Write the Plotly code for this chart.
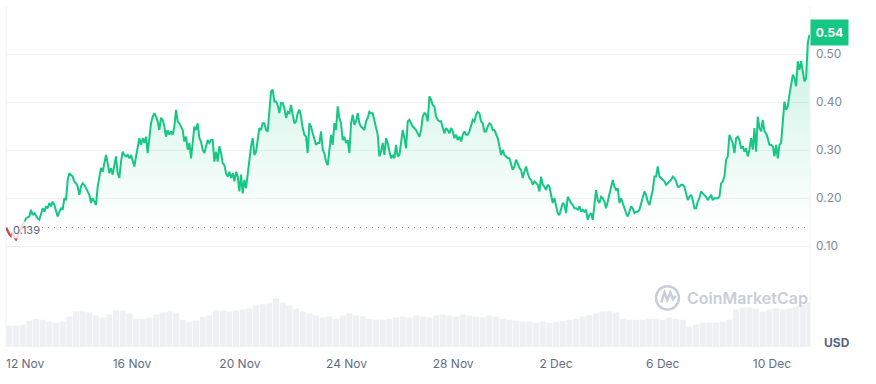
import plotly.graph_objects as go
import pandas as pd

# ---- data ----
price_start_time = "2023-11-12 00:00"
price_step = "90min"
price = [
    0.139, 0.130, 0.125, 0.121, 0.128, 0.118, 0.114, 0.121, 0.130, 0.136, 0.145, 0.150, 0.158, 0.160, 0.162,
    0.176, 0.165, 0.169, 0.162, 0.158, 0.155, 0.165, 0.179, 0.172, 0.183,
    0.179, 0.190, 0.183, 0.193, 0.186, 0.176, 0.162, 0.172, 0.179, 0.176,
    0.200, 0.196, 0.238, 0.252, 0.249, 0.245, 0.235, 0.231, 0.224, 0.207,
    0.224, 0.231, 0.228, 0.221, 0.214, 0.207, 0.190, 0.200, 0.193, 0.186,
    0.224, 0.245, 0.263, 0.255, 0.276, 0.290, 0.273, 0.252, 0.263, 0.249,
    0.269, 0.287, 0.252, 0.242, 0.276, 0.297, 0.290, 0.287, 0.290, 0.283,
    0.290, 0.280, 0.266, 0.287, 0.308, 0.325,
    0.311, 0.325, 0.315, 0.328, 0.294, 0.321, 0.356, 0.370, 0.377, 0.370,
    0.360, 0.342, 0.367, 0.363, 0.349, 0.328, 0.342, 0.332, 0.339, 0.332,
    0.349, 0.384, 0.360, 0.356, 0.349, 0.342, 0.318, 0.328, 0.301, 0.315,
    0.283, 0.321, 0.349, 0.342, 0.356, 0.325, 0.318, 0.301, 0.294, 0.308,
    0.321, 0.315, 0.321, 0.321, 0.276, 0.297, 0.276, 0.308, 0.294, 0.273,
    0.269, 0.252, 0.245, 0.255, 0.242, 0.252, 0.235, 0.255, 0.245, 0.214,
    0.249, 0.210, 0.238, 0.221, 0.252, 0.290, 0.308, 0.325, 0.290, 0.297,
    0.321, 0.346, 0.342, 0.356, 0.356, 0.342, 0.339, 0.377, 0.422, 0.426,
    0.401,
    0.401, 0.394, 0.377, 0.398, 0.398, 0.388, 0.367, 0.380, 0.377, 0.394,
    0.374, 0.356, 0.360, 0.377, 0.384, 0.370, 0.346, 0.332, 0.328, 0.294,
    0.356, 0.349, 0.335, 0.321, 0.311, 0.315, 0.315, 0.339, 0.301, 0.294,
    0.276, 0.269, 0.297, 0.332, 0.311, 0.356, 0.342, 0.391, 0.367, 0.356,
    0.321, 0.328, 0.315, 0.321, 0.294, 0.356, 0.374, 0.353, 0.360, 0.377,
    0.356, 0.349, 0.346, 0.342, 0.360, 0.367, 0.380, 0.377, 0.377, 0.360,
    0.342, 0.332, 0.287, 0.297, 0.315, 0.290, 0.325, 0.315, 0.297, 0.283,
    0.290, 0.283, 0.311, 0.287, 0.290, 0.321, 0.342, 0.325, 0.304, 0.360,
    0.363,
    0.356, 0.349, 0.346, 0.342, 0.335, 0.328, 0.342, 0.370, 0.377, 0.374,
    0.360, 0.412, 0.405, 0.394, 0.391, 0.370, 0.363, 0.360, 0.360, 0.349,
    0.335, 0.346, 0.342, 0.335, 0.346, 0.339, 0.325, 0.332, 0.321, 0.328,
    0.318, 0.332, 0.339, 0.332, 0.332, 0.339, 0.353, 0.363, 0.360, 0.374,
    0.380, 0.377, 0.360, 0.356, 0.339, 0.339, 0.349, 0.356, 0.353, 0.342,
    0.342, 0.332, 0.325, 0.308, 0.290, 0.301, 0.290, 0.287, 0.283, 0.283,
    0.269, 0.259, 0.266, 0.280, 0.273, 0.263, 0.259, 0.242, 0.255, 0.266,
    0.252, 0.242, 0.238, 0.228, 0.235, 0.231, 0.228, 0.214, 0.245, 0.228,
    0.224, 0.217, 0.228, 0.224, 0.207, 0.190, 0.200, 0.183, 0.169, 0.165,
    0.179, 0.190, 0.186, 0.169, 0.203, 0.196, 0.190, 0.186, 0.179, 0.179,
    0.176, 0.183, 0.172, 0.176, 0.172, 0.176, 0.155, 0.165, 0.169, 0.155,
    0.183, 0.217, 0.196, 0.190, 0.203, 0.200, 0.193, 0.179, 0.193, 0.207,
    0.224, 0.238, 0.224, 0.217, 0.221, 0.190, 0.200, 0.190, 0.176, 0.169,
    0.162, 0.172, 0.183, 0.179, 0.169, 0.172, 0.172, 0.176, 0.190, 0.203,
    0.214, 0.207, 0.193, 0.186, 0.203, 0.217, 0.245, 0.245, 0.266, 0.245,
    0.242, 0.238, 0.235, 0.228, 0.231, 0.235, 0.238, 0.245, 0.242, 0.235,
    0.224, 0.224,
    0.228, 0.228, 0.224, 0.210, 0.196, 0.203, 0.207, 0.196, 0.179, 0.179,
    0.193, 0.200, 0.214, 0.210, 0.207, 0.203, 0.196, 0.203, 0.207, 0.196,
    0.200, 0.200, 0.200, 0.203, 0.231, 0.235, 0.245, 0.280, 0.287, 0.332,
    0.321, 0.315, 0.294, 0.325, 0.328, 0.321, 0.304, 0.308, 0.297, 0.304,
    0.287, 0.301, 0.325, 0.301, 0.346, 0.297, 0.370, 0.346, 0.339, 0.363,
    0.339, 0.335, 0.325, 0.311, 0.311, 0.308, 0.287, 0.311, 0.283, 0.311,
    0.315, 0.360, 0.401, 0.384, 0.391, 0.415, 0.433, 0.457, 0.450, 0.433,
    0.485, 0.467, 0.485, 0.467, 0.443, 0.450, 0.523, 0.540,
]

volume_step = "6h"
volume = [
    21, 21, 22, 26, 28, 27, 25, 24, 25, 30,
    35, 35, 34, 31, 29, 32, 36, 36, 33, 28,
    28, 29, 32, 34, 35, 33, 27, 25, 26, 30,
    31, 36, 36, 35, 36, 37, 38, 41, 42, 43,
    48, 44, 41, 38, 35, 33, 31, 29, 30, 28,
    31, 33, 31, 30, 28, 27, 27, 28, 29, 30,
    29, 31, 30, 29, 31, 32, 31, 30, 32, 31,
    30, 29, 31, 30, 28, 27, 26, 25, 25, 24,
    25, 24, 25, 26, 27, 28, 30, 31, 33, 35,
    35, 34, 28, 27, 27, 27, 28, 28, 27, 29,
    28, 27, 20, 22, 24, 24, 24, 25, 27, 37,
    39, 39, 38, 35, 37, 38, 37, 38, 40, 42,
    44,
]

start_price = 0.139
last_price = 0.54
date_ticks = ["2023-11-12", "2023-11-16", "2023-11-20", "2023-11-24",
              "2023-11-28", "2023-12-02", "2023-12-06", "2023-12-10"]
date_labels = ["12 Nov", "16 Nov", "20 Nov", "24 Nov", "28 Nov", "2 Dec", "6 Dec", "10 Dec"]
price_ticks = [0.0, 0.1, 0.2, 0.3, 0.4, 0.5, 0.6]
price_labels = ["", "0.10", "0.20", "0.30", "0.40", "0.50", ""]

GREEN = "#16c784"
RED = "#ea3943"
GRID = "#eff2f5"
TXT = "#616e85"
FONT = "Inter"

t = pd.date_range(price_start_time, periods=len(price), freq=price_step)
tv = pd.date_range(price_start_time, periods=len(volume), freq=volume_step) + pd.Timedelta("3h")

fig = go.Figure()

fig.add_trace(go.Bar(
    x=tv, y=volume, yaxis="y2", marker=dict(color="#eef0f4", line=dict(width=0)),
    hoverinfo="skip", showlegend=False,
))

fig.add_trace(go.Scatter(
    x=t, y=[start_price] * len(price), mode="lines", line=dict(width=0),
    hoverinfo="skip", showlegend=False,
))
fig.add_trace(go.Scatter(
    x=t, y=price, mode="lines", line=dict(color=GREEN, width=2),
    fill="tonexty",
    fillgradient=dict(type="vertical", start=start_price, stop=0.56,
                      colorscale=[[0, "rgba(22,199,132,0.0)"], [1, "rgba(22,199,132,0.24)"]]),
    showlegend=False,
))
n_red = 11
fig.add_trace(go.Scatter(
    x=t[:n_red], y=price[:n_red], mode="lines", line=dict(color=RED, width=2),
    showlegend=False,
))

# price baseline (dotted)
fig.add_shape(type="line", xref="paper", x0=0, x1=1, yref="y", y0=start_price, y1=start_price,
              line=dict(color="#8a94a6", width=1, dash="1px,5px"), layer="above")
# left / right borders
for xp in (0, 1):
    fig.add_shape(type="line", xref="paper", x0=xp, x1=xp, yref="paper", y0=0, y1=1,
                  line=dict(color=GRID, width=1), layer="below")

# CoinMarketCap watermark logo (circle + wave)
wm = "#c8ced8"
fig.add_shape(type="circle", xref="paper", yref="paper",
              x0=0.8085, x1=0.8370, y0=0.110, y1=0.178,
              line=dict(color=wm, width=2.5))
fig.add_shape(type="path", xref="paper", yref="paper",
              path="M 0.8150,0.130 L 0.8190,0.160 L 0.8225,0.138 L 0.8262,0.160 L 0.8295,0.140 L 0.8330,0.150",
              line=dict(color=wm, width=2.5))

fig.add_annotation(x=0.845, xref="paper", xanchor="left", y=0.1437, yref="paper", yanchor="middle",
                   text="CoinMarketCap", showarrow=False,
                   font=dict(family=FONT, size=16, color=wm, weight=600))

fig.add_annotation(x=0, xref="paper", xanchor="left", xshift=5, y=start_price, yref="y",
                   yanchor="middle", yshift=-2, text="0.139", showarrow=False,
                   font=dict(family=FONT, size=11, color="#58667e"),
                   bgcolor="rgba(255,255,255,0.8)", borderpad=1)

fig.add_annotation(x=1, xref="paper", xanchor="left", y=last_price, yref="y", yanchor="middle",
                   yshift=2, text="<b>0.54</b>", showarrow=False,
                   font=dict(family=FONT, size=12, color="white"),
                   bgcolor=GREEN, width=37, height=25, borderpad=0)

fig.add_annotation(x=1, xref="paper", xanchor="left", xshift=12, y=0.012, yref="paper",
                   yanchor="middle", text="<b>USD</b>", showarrow=False,
                   font=dict(family=FONT, size=12, color="#58667e"))

fig.update_layout(
    width=876, height=384,
    margin=dict(l=6, r=66, t=6, b=37),
    paper_bgcolor="white", plot_bgcolor="white",
    bargap=0.08,
    font=dict(family=FONT, color=TXT),
    xaxis=dict(type="date", range=["2023-11-12 00:00", "2023-12-12 03:30"], anchor="y2",
               tickvals=date_ticks, ticktext=date_labels, showgrid=False, zeroline=False,
               ticks="", ticklabelposition="outside right", ticklabelstandoff=8,
               tickfont=dict(family=FONT, size=12, color=TXT)),
    yaxis=dict(domain=[0.1545, 1], range=[0, 0.6], side="right", tickvals=price_ticks,
               ticktext=price_labels, gridcolor=GRID, gridwidth=1, zeroline=False, ticks="",
               ticklabelstandoff=5, anchor="x",
               tickfont=dict(family=FONT, size=12, color="#808a9d")),
    yaxis2=dict(domain=[0, 0.1545], range=[0, 52], showgrid=False, zeroline=False,
                showticklabels=False, anchor="x"),
)

fig.write_html("out.html", config={"displayModeBar": False},
               post_script="document.body.style.margin='0';document.body.style.padding='0';")
